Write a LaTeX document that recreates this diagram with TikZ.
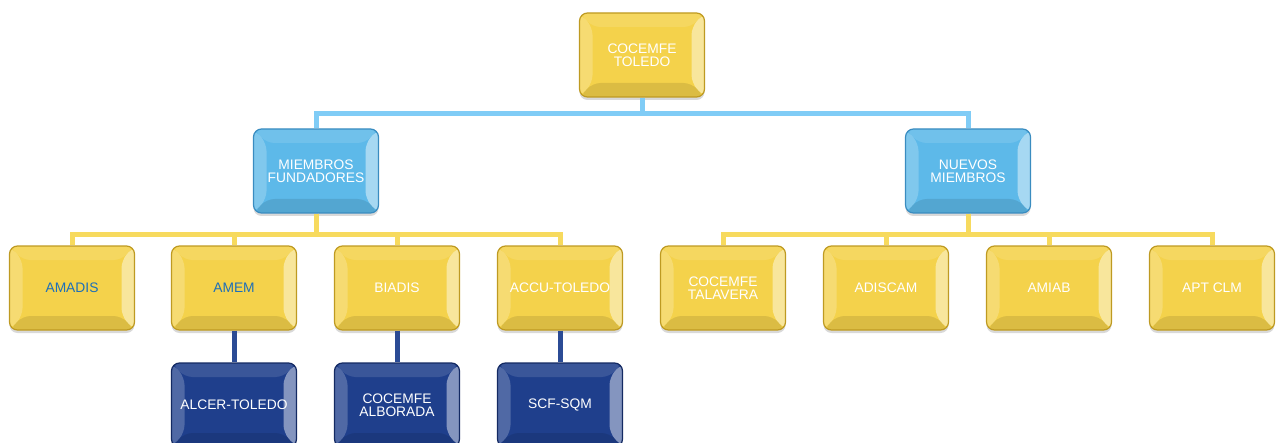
\documentclass[tikz,border=0pt]{standalone}
\usepackage{fontspec}
\setmainfont{Liberation Sans}
\usetikzlibrary{shadows}

\definecolor{gold}{HTML}{F4D24B}
\definecolor{goldline}{HTML}{F7DA5E}
\definecolor{golddark}{HTML}{BE9A22}
\definecolor{sky}{HTML}{5DB9E9}
\definecolor{skyline}{HTML}{80CCF6}
\definecolor{skydark}{HTML}{3A8CC0}
\definecolor{navy}{HTML}{1F3F8C}
\definecolor{navyline}{HTML}{2B4B95}
\definecolor{navydark}{HTML}{142A63}
\definecolor{labelblue}{HTML}{1D6FB8}

\tikzset{
  bevel/.style={
    path picture={
      \coordinate (nw) at (path picture bounding box.north west);
      \coordinate (ne) at (path picture bounding box.north east);
      \coordinate (sw) at (path picture bounding box.south west);
      \coordinate (se) at (path picture bounding box.south east);
      \fill[white,opacity=.12] (nw) -- (ne) -- ([shift={(-6.5pt,-7pt)}]ne) -- ([shift={(6.5pt,-7pt)}]nw) -- cycle;
      \fill[black,opacity=.10] (sw) -- (se) -- ([shift={(-6.5pt,7pt)}]se) -- ([shift={(6.5pt,7pt)}]sw) -- cycle;
      \fill[white,opacity=.22] (nw) -- ([shift={(6.5pt,-7pt)}]nw) -- ([shift={(6.5pt,7pt)}]sw) -- (sw) -- cycle;
      \fill[white,opacity=.45] (ne) -- ([shift={(-6.5pt,-7pt)}]ne) -- ([shift={(-6.5pt,7pt)}]se) -- (se) -- cycle;
    }},
  box/.style={rectangle, rounded corners=4pt, minimum width=62.5pt, minimum height=42pt,
    align=center, text=white, font=\fontsize{6.9}{6.6}\selectfont, line width=.6pt,
    drop shadow={shadow xshift=0pt, shadow yshift=-1.5pt, opacity=.3}, bevel},
  yellowbox/.style={box, fill=gold, draw=golddark},
  bluebox/.style={box, fill=sky, draw=skydark},
  navybox/.style={box, fill=navy, draw=navydark},
  link/.style={line width=2.5pt}
}

\begin{document}
\begin{tikzpicture}[x=0.5pt,y=0.5pt]
  \useasboundingbox (0,0) rectangle (1278,-443);

  \node[yellowbox] (toledo) at (642,-55) {COCEMFE\\TOLEDO};

  \begin{scope}[every node/.style={bluebox}]
    \node (fund)   at (316,-171) {MIEMBROS\\FUNDADORES};
    \node (nuevos) at (968,-171) {NUEVOS\\MIEMBROS};
  \end{scope}

  \begin{scope}[every path/.style={link, draw=skyline}]
    \path (toledo.south) -- ++(0,-16) -| (fund.north);
    \path (toledo.south) -- ++(0,-16) -| (nuevos.north);
  \end{scope}

  \begin{scope}[every node/.style={yellowbox}]
    \node (amadis)   at (72,-288)   {\textcolor{labelblue}{AMADIS}};
    \node (amem)     at (234,-288)  {\textcolor{labelblue}{AMEM}};
    \node (biadis)   at (397,-288)  {BIADIS};
    \node (accu)     at (560,-288)  {ACCU-TOLEDO};
    \node (talavera) at (723,-288)  {COCEMFE\\TALAVERA};
    \node (adiscam)  at (886,-288)  {ADISCAM};
    \node (amiab)    at (1049,-288) {AMIAB};
    \node (apt)      at (1212,-288) {APT CLM};
  \end{scope}

  \begin{scope}[every path/.style={link, draw=goldline}]
    \path (fund.south) -- ++(0,-21) -| (amadis.north);
    \path (fund.south) -- ++(0,-21) -| (amem.north);
    \path (fund.south) -- ++(0,-21) -| (biadis.north);
    \path (fund.south) -- ++(0,-21) -| (accu.north);
    \path (nuevos.south) -- ++(0,-21) -| (talavera.north);
    \path (nuevos.south) -- ++(0,-21) -| (adiscam.north);
    \path (nuevos.south) -- ++(0,-21) -| (amiab.north);
    \path (nuevos.south) -- ++(0,-21) -| (apt.north);
  \end{scope}

  \begin{scope}[every node/.style={navybox}]
    \node (alcer)    at (234,-405) {ALCER-TOLEDO};
    \node (alborada) at (397,-405) {COCEMFE\\ALBORADA};
    \node (scf)      at (560,-405) {SCF-SQM};
  \end{scope}

  \begin{scope}[every path/.style={link, draw=navyline}]
    \path (amem)   -- (alcer);
    \path (biadis) -- (alborada);
    \path (accu)   -- (scf);
  \end{scope}
\end{tikzpicture}
\end{document}
